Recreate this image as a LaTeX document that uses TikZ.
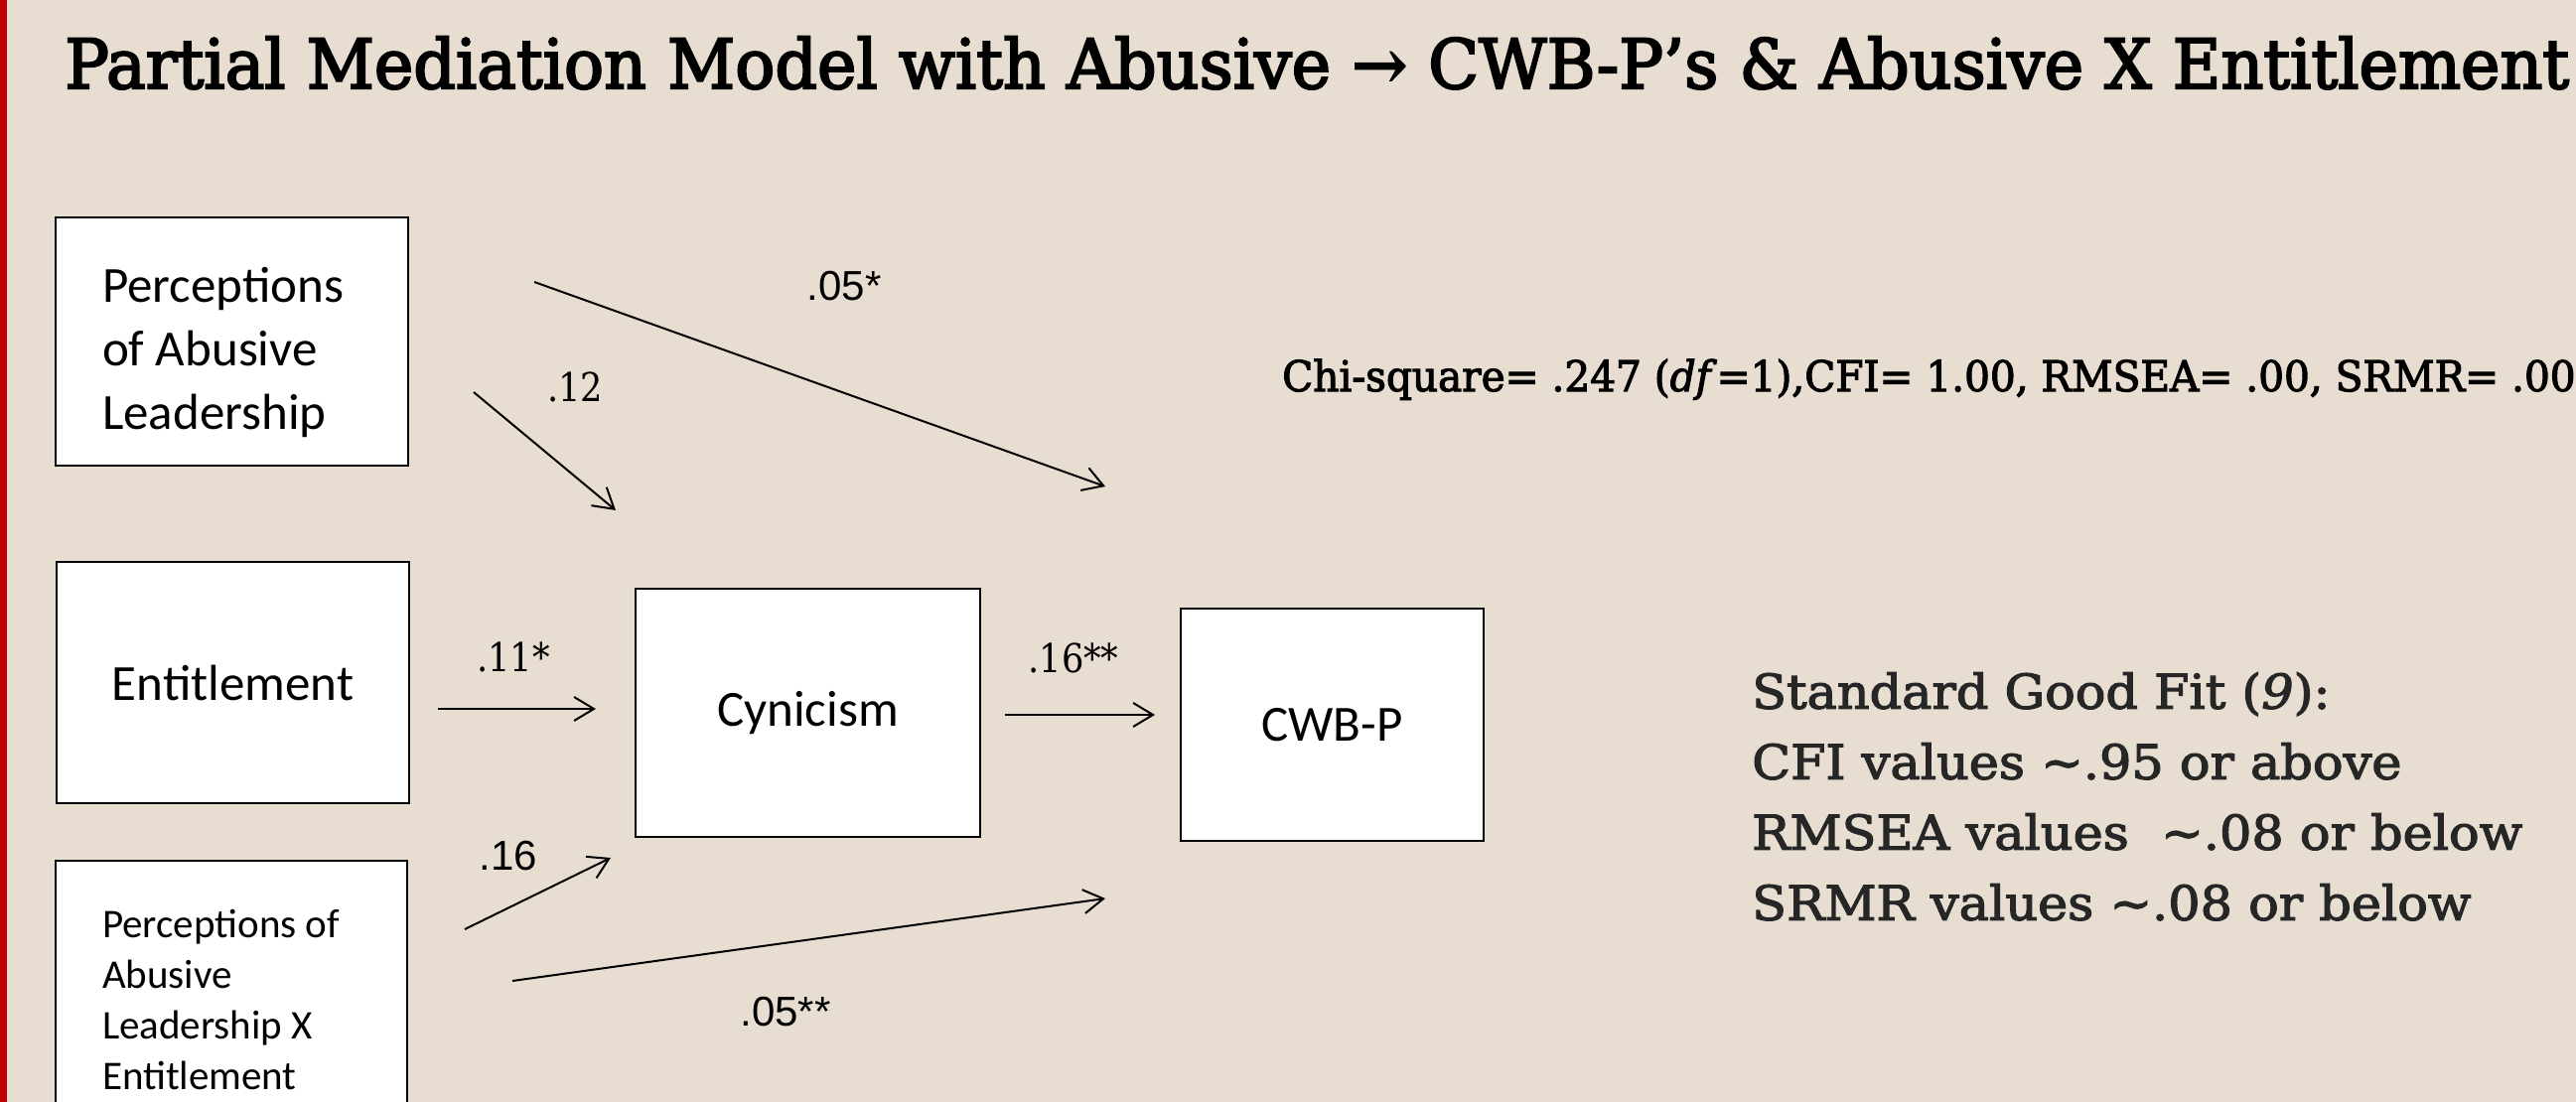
\documentclass[tikz,border=0pt]{standalone}
\usepackage{fontspec}
\setmainfont{DejaVu Serif}
\newfontfamily\slabfont[FakeStretch=0.88]{DejaVu Serif}
\newfontfamily\titlefont[FakeStretch=0.965, FakeBold=3]{DejaVu Serif}
\newfontfamily\fitfont[FakeStretch=0.955, FakeBold=2.5]{DejaVu Serif}
\newfontfamily\rulefont[FakeStretch=1.06, FakeBold=2.5]{DejaVu Serif}
\newfontfamily\boxfont{Carlito}
\newfontfamily\numfont{Liberation Sans}
\usetikzlibrary{arrows.meta, positioning}

\definecolor{slidebg}{HTML}{E7DED1}
\definecolor{slidered}{HTML}{C00000}

\tikzset{
  box/.style={draw=black, fill=white, line width=2pt, inner sep=0pt, align=flush left,
    font=\boxfont\fontsize{51}{64}\selectfont},
  smallbox/.style={box, font=\boxfont\fontsize{41}{51}\selectfont},
  coef/.style={line width=2pt, -{Straight Barb[length=20pt,width=24pt,line width=2pt]}},
  slablabel/.style={inner sep=0pt, font=\slabfont\fontsize{40}{48}\selectfont},
  sanslabel/.style={inner sep=0pt, font=\numfont\fontsize{42}{50}\selectfont},
}

\begin{document}
\begin{tikzpicture}[x=1pt, y=-1pt]
  \clip (0,0) rectangle (2594,1110);
  \fill[slidebg] (0,0) rectangle (2594,1110);
  \fill[slidered] (0,0) rectangle (7,1110);

  % heading and fit indices
  \node (title) [anchor=base west, inner sep=0pt, font=\titlefont\fontsize{69}{80}\selectfont]
    at (65,89) {Partial Mediation Model with Abusive → CWB-P’s \& Abusive X Entitlement};
  \node (fit) [anchor=base west, inner sep=0pt, font=\fitfont\fontsize{42.5}{50}\selectfont]
    at (1291,394) {Chi-square= .247 (\textit{df}=1),CFI= 1.00, RMSEA= .00, SRMR= .00};
  \node (good) [anchor=north west, inner sep=0pt, align=left, text=black!85,
    font=\rulefont\fontsize{48}{71}\selectfont] at (1764,677)
    {Standard Good Fit (\textit{9}):\\CFI values \textasciitilde.95 or above\\RMSEA values \ \textasciitilde.08 or below\\SRMR values \textasciitilde.08 or below};

  % variables
  \node (abuse) [box, text width=261, minimum width=355, minimum height=250] at (233.5,344)
    {\rule{0pt}{57pt}Perceptions\\of Abusive\\Leadership};
  \node (entitle) [box, minimum width=355, minimum height=243] at (234.5,687.5) {Entitlement};
  \node (inter) [smallbox, text width=260, minimum width=354, minimum height=280] at (233,1007)
    {Perceptions of\\Abusive\\Leadership X\\Entitlement};
  \node (cynic) [box, minimum width=347, minimum height=250] at (813.5,718) {Cynicism};
  \node (cwbp) [box, minimum width=305, minimum height=234] at (1341.5,730) {CWB-P};

  % arrow ends
  \coordinate (abuse-d1) at (538,284);
  \coordinate (abuse-d2) at (1113,490);
  \coordinate (abuse-c1) at (477,395);
  \coordinate (abuse-c2) at (620,514);
  \coordinate (ent-c1) at (441,714);
  \coordinate (ent-c2) at (600,714);
  \coordinate (cyn-w1) at (1012,720);
  \coordinate (cyn-w2) at (1163,720);
  \coordinate (int-c1) at (468,936);
  \coordinate (int-c2) at (615,864);
  \coordinate (int-d1) at (516,988);
  \coordinate (int-d2) at (1113,905);

  % coefficients
  \node (b05a) [sanslabel] at (850,288) {.05*};
  \node (b12) [slablabel] at (579,390) {.12};
  \node (b11) [slablabel] at (517,662) {.11*};
  \node (b16a) [slablabel] at (1081,663) {.16**};
  \node (b16b) [sanslabel] at (512,862) {.16};
  \node (b05b) [sanslabel] at (791,1019) {.05**};

  \draw
  (abuse-d1) edge[coef] (abuse-d2)
  (abuse-c1) edge[coef] (abuse-c2)
  (ent-c1) edge[coef] (ent-c2)
  (cyn-w1) edge[coef] (cyn-w2)
  (int-c1) edge[coef] (int-c2)
  (int-d1) edge[coef] (int-d2);
\end{tikzpicture}
\end{document}
